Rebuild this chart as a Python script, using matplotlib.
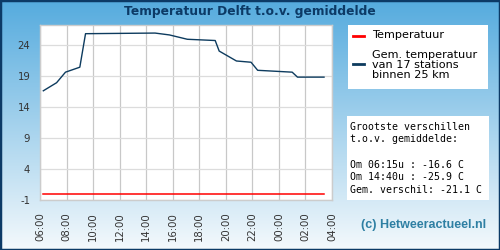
import numpy as np
import matplotlib
matplotlib.use("Agg")
import matplotlib.pyplot as plt
from matplotlib.patches import Rectangle

plt.rcParams["axes.unicode_minus"] = False

# ---- data ----
title = "Temperatuur Delft t.o.v. gemiddelde"
hours = [6.25, 7.25, 7.92, 9.0, 9.43, 14.67, 15.75, 17.1, 19.2, 19.5, 20.8, 21.9, 22.4, 25.0, 25.4, 27.4]
gem_temp = [16.6, 17.9, 19.6, 20.4, 25.8, 25.9, 25.6, 24.9, 24.7, 23.0, 21.4, 21.2, 19.9, 19.6, 18.8, 18.8]
temp = [0.0] * len(hours)
xtick_pos = [6, 8, 10, 12, 14, 16, 18, 20, 22, 24, 26, 28]
xtick_labels = ["06:00", "08:00", "10:00", "12:00", "14:00", "16:00", "18:00",
                "20:00", "22:00", "00:00", "02:00", "04:00"]
ytick_vals = [-1, 4, 9, 14, 19, 24]
legend_labels = ["Temperatuur", "Gem. temperatuur\nvan 17 stations\nbinnen 25 km"]
info_lines = ["Grootste verschillen", "t.o.v. gemiddelde:", "",
              "Om 06:15u : -16.6 C", "Om 14:40u : -25.9 C", "Gem. verschil: -21.1 C"]
credit = "(c) Hetweeractueel.nl"

W, H = 500, 250
fig = plt.figure(figsize=(W / 100, H / 100), dpi=100)

def px(x0, y0, x1, y1):
    return [x0 / W, 1 - y1 / H, (x1 - x0) / W, (y1 - y0) / H]

# gradient background
bg = fig.add_axes([0, 0, 1, 1], zorder=-10)
top = np.array([0x55, 0xab, 0xde]) / 255
bot = np.array([0xf4, 0xf9, 0xfc]) / 255
t = np.linspace(0, 1, 256)[:, None]
grad = top[None, :] * (1 - t) + bot[None, :] * t
grad = np.repeat(grad[:, None, :], 2, axis=1)
bg.imshow(grad, aspect="auto", extent=[0, 1, 0, 1])
bg.add_patch(Rectangle((0, 0), 1, 1, fill=False, edgecolor="#0c3a66", linewidth=2.5,
                       transform=bg.transAxes))
bg.set_axis_off()

fig.text(250 / W, 1 - 11 / H, title, ha="center", va="center", fontsize=8.8,
         fontweight="bold", color="#0c3a66")

# main plot
ax = fig.add_axes(px(40, 25, 332, 200))
ax.set_facecolor("white")
ax.plot(hours, temp, color="#ff0000", linewidth=1.1)
ax.plot(hours, gem_temp, color="#0d3b5e", linewidth=1.0)
ax.set_xlim(6, 28)
ax.set_ylim(-1, 27.2)
ax.set_xticks(xtick_pos)
ax.set_xticklabels(xtick_labels, rotation=90)
ax.set_yticks(ytick_vals)
ax.tick_params(axis="both", length=0, labelsize=7.3, labelcolor="#333333")
ax.tick_params(axis="x", pad=8.5)
ax.tick_params(axis="y", pad=7)
ax.xaxis.grid(True, color="#c8c8c8", linewidth=0.9)
ax.yaxis.grid(True, color="#dcdcdc", linewidth=0.9)
ax.set_axisbelow(True)
for s in ax.spines.values():
    s.set_color("#cccccc")
    s.set_linewidth(1)

# legend box
lax = fig.add_axes(px(348, 25, 488, 89))
lax.set_xlim(348, 488)
lax.set_ylim(89, 25)
lax.set_facecolor("white")
lax.set_xticks([]); lax.set_yticks([])
for s in lax.spines.values():
    s.set_visible(False)
lax.plot([352.5, 363.5], [36, 36], color="#ff0000", linewidth=2)
lax.plot([352.5, 363.5], [64, 64], color="#0d3b5e", linewidth=2)
lax.text(372.5, 35.5, legend_labels[0], fontsize=8.1, va="center", ha="left", color="black")
lax.text(372.5, 65, legend_labels[1], fontsize=8.1, va="center", ha="left", color="black",
         linespacing=0.95)

# info box
iax = fig.add_axes(px(347, 116, 489, 200))
iax.set_xlim(347, 489)
iax.set_ylim(200, 116)
iax.set_facecolor("white")
iax.set_xticks([]); iax.set_yticks([])
for s in iax.spines.values():
    s.set_visible(False)
ys = [127, 139, 151, 165, 177, 190]
for y, line in zip(ys, info_lines):
    iax.text(350, y, line, fontsize=7.1, family="DejaVu Sans Mono", va="center",
             ha="left", color="black")

fig.text(423.5 / W, 1 - 225 / H, credit, ha="center", va="center", fontsize=9.0,
         family="Liberation Sans", color="#2e7fa3", fontweight="bold")

fig.savefig("out.png", dpi=100)
